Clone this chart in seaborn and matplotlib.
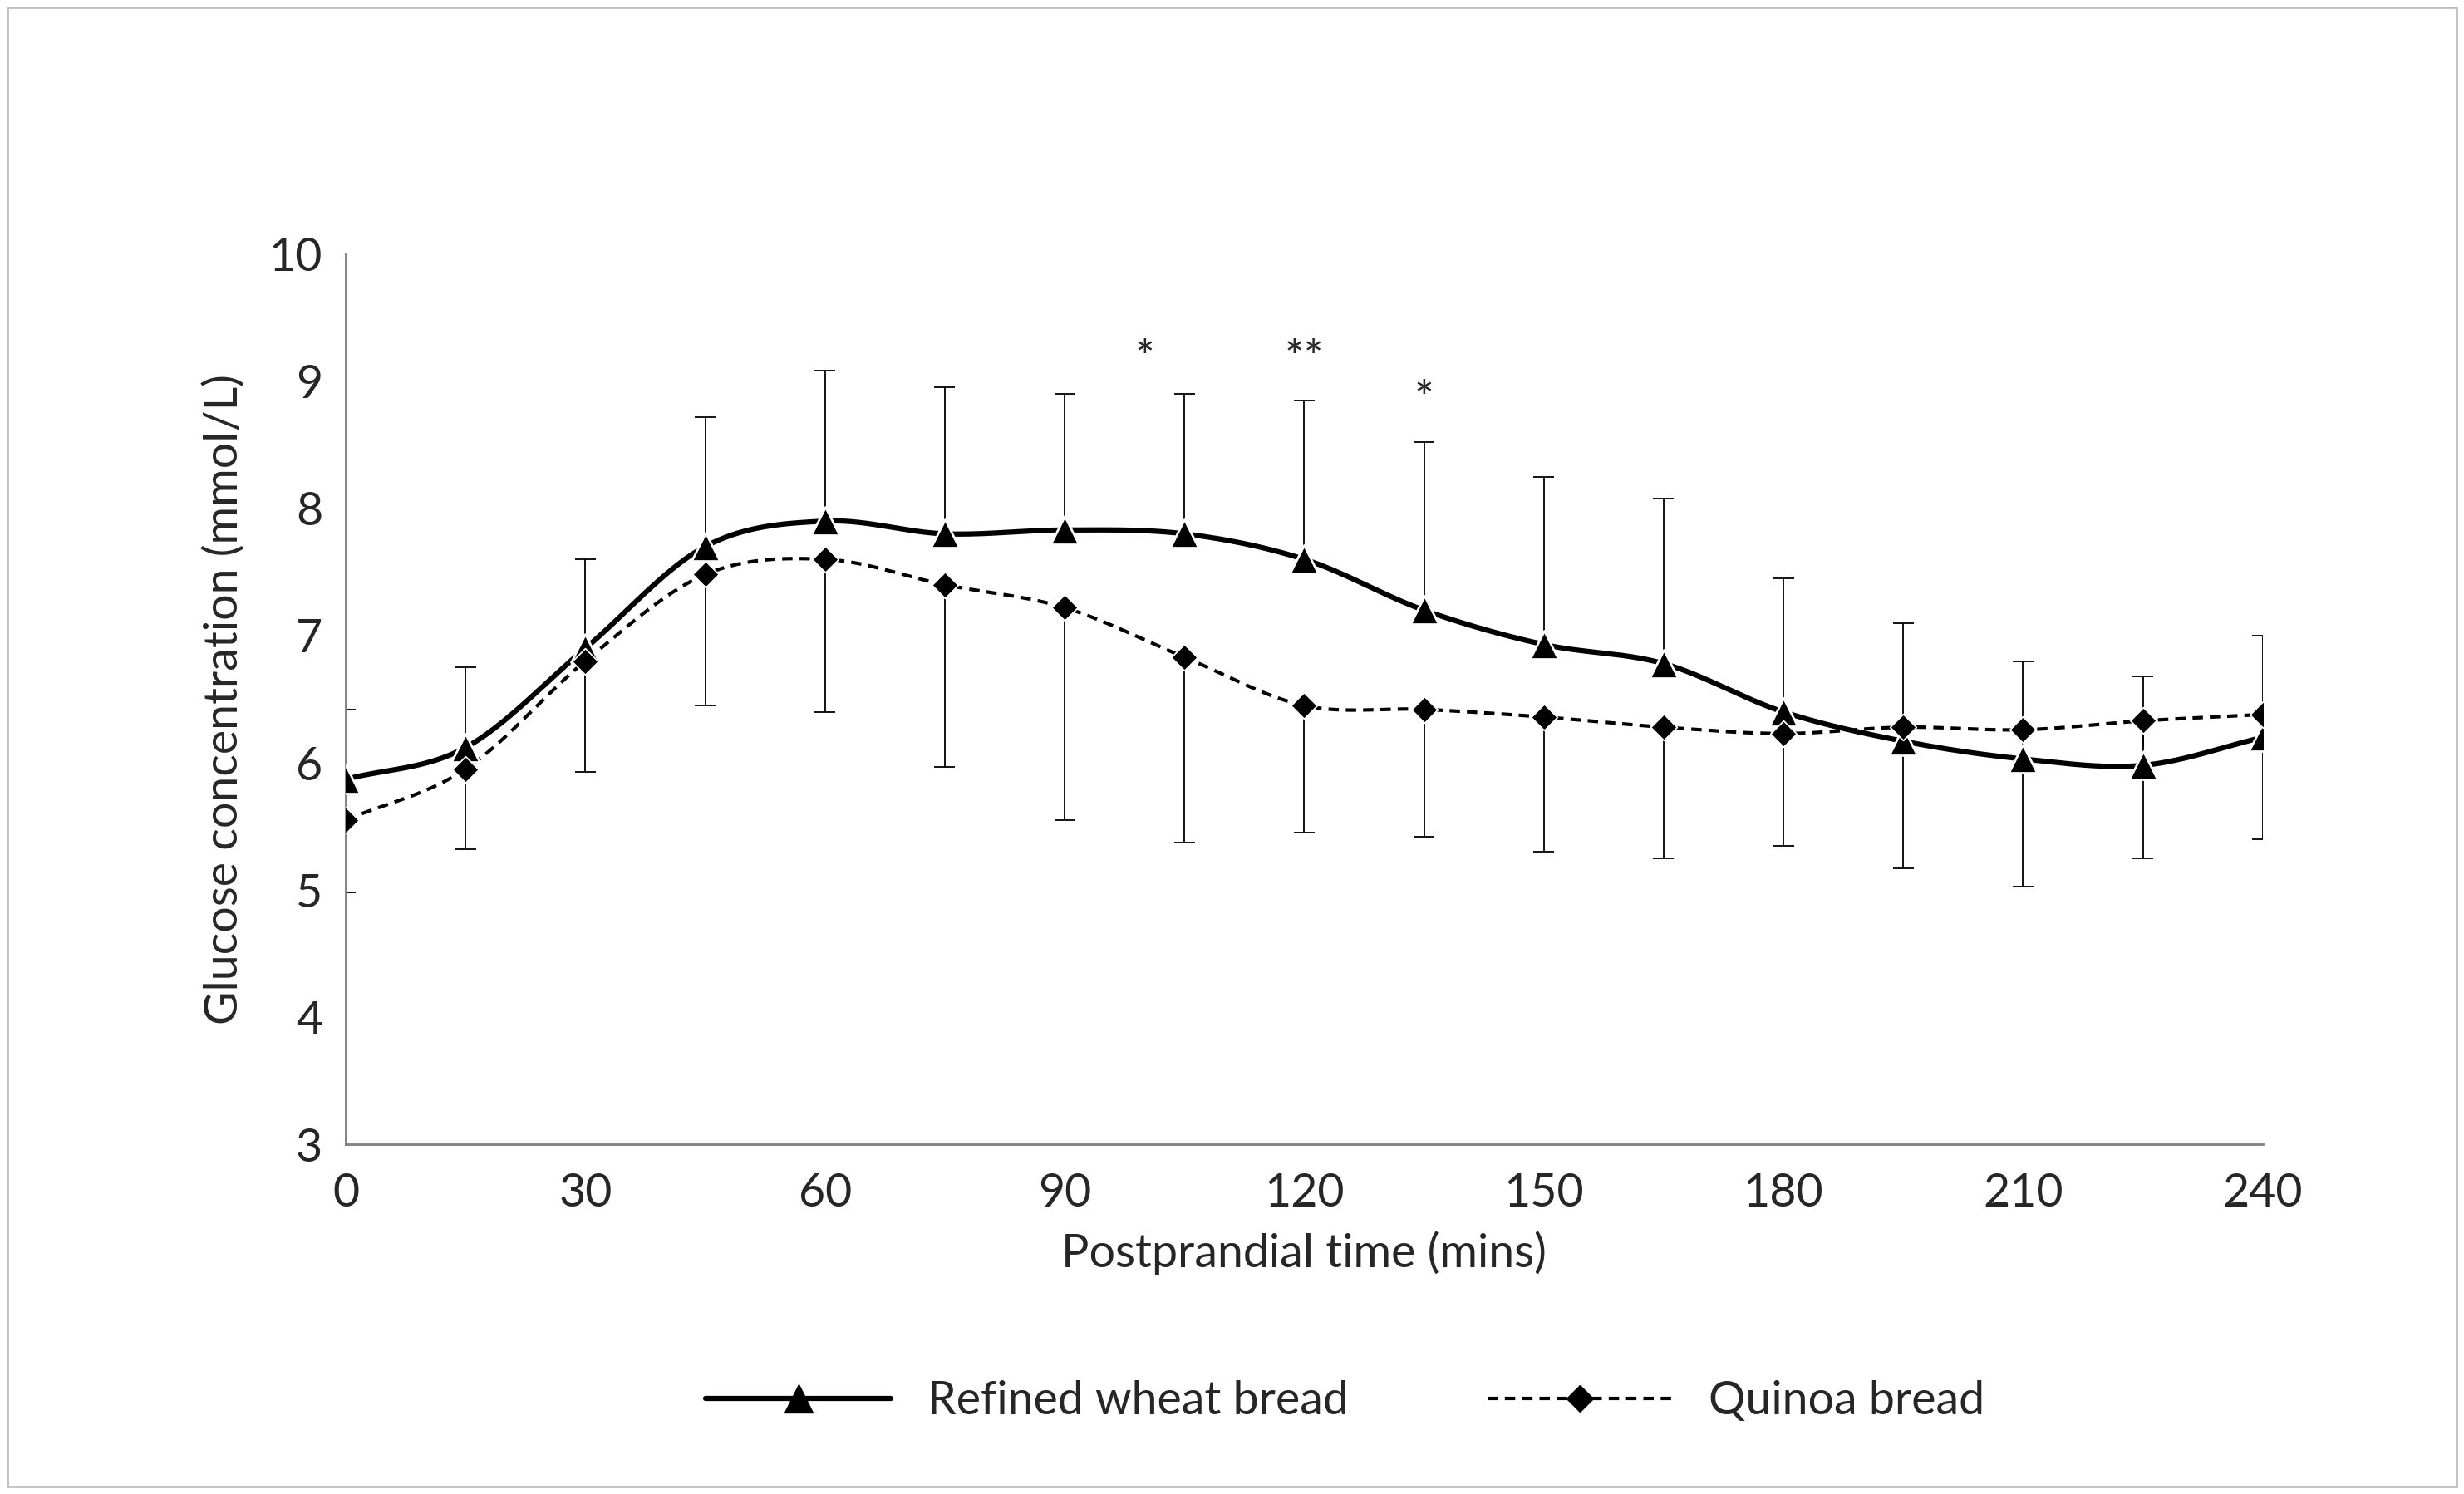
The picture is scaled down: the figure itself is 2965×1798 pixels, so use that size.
import numpy as np
import pandas as pd
import seaborn as sns
import matplotlib.pyplot as plt
from matplotlib.patches import Rectangle

time_min = [0, 15, 30, 45, 60, 75, 90, 105, 120, 135, 150, 165, 180, 195, 210, 225, 240]
wheat = [5.87, 6.12, 6.90, 7.70, 7.90, 7.80, 7.83, 7.80, 7.60, 7.20, 6.93, 6.78, 6.40, 6.17, 6.03, 5.98, 6.20]
quinoa = [5.55, 5.95, 6.80, 7.48, 7.60, 7.40, 7.22, 6.83, 6.45, 6.42, 6.36, 6.28, 6.23, 6.28, 6.26, 6.33, 6.38]
wheat_upper = [6.42, 6.75, 7.60, 8.72, 9.08, 8.95, 8.90, 8.90, 8.85, 8.52, 8.25, 8.08, 7.45, 7.10, 6.80, 6.68, 7.00]
quinoa_lower = [4.98, 5.32, 5.93, 6.45, 6.40, 5.97, 5.55, 5.37, 5.45, 5.42, 5.30, 5.25, 5.35, 5.17, 5.03, 5.25, 5.40]
stars = [(100, 9.0, '*'), (120, 9.0, '**'), (135, 8.68, '*')]


def smooth(x, y, n=30):
    # Catmull-Rom spline, like Excel's smoothed lines
    x = np.asarray(x, float); y = np.asarray(y, float)
    px = np.concatenate([[2 * x[0] - x[1]], x, [2 * x[-1] - x[-2]]])
    py = np.concatenate([[2 * y[0] - y[1]], y, [2 * y[-1] - y[-2]]])
    xs, ys = [], []
    t = np.linspace(0, 1, n)
    for i in range(1, len(px) - 2):
        for p, out in ((px, xs), (py, ys)):
            p0, p1, p2, p3 = p[i - 1], p[i], p[i + 1], p[i + 2]
            out.append(0.5 * (2 * p1 + (-p0 + p2) * t + (2 * p0 - 5 * p1 + 4 * p2 - p3) * t ** 2
                              + (-p0 + 3 * p1 - 3 * p2 + p3) * t ** 3))
    return np.concatenate(xs), np.concatenate(ys)


sns.set_style('white')
plt.rcParams['font.family'] = ['Lato', 'DejaVu Sans']

fig = plt.figure(figsize=(29.65, 17.98), dpi=100)
ax = fig.add_axes([0.1403, 0.234, 0.778, 0.596])

df = pd.DataFrame({'t': time_min, 'wheat': wheat, 'quinoa': quinoa})

ax.vlines(time_min, wheat, wheat_upper, color='black', lw=1.3)
ax.hlines(wheat_upper, np.array(time_min) - 1.3, np.array(time_min) + 1.3, color='black', lw=1.3)
ax.vlines(time_min, quinoa_lower, quinoa, color='black', lw=1.3)
ax.hlines(quinoa_lower, np.array(time_min) - 1.3, np.array(time_min) + 1.3, color='black', lw=1.3)

sx, sy = smooth(time_min, wheat)
ax.plot(sx, sy, color='black', lw=4.5)
sx, sy = smooth(time_min, quinoa)
ax.plot(sx, sy, color='black', lw=3, ls=(0, (3, 2)))
sns.scatterplot(data=df, x='t', y='wheat', marker='^', s=600, color='black', ax=ax, zorder=5)
sns.scatterplot(data=df, x='t', y='quinoa', marker='D', s=260, color='black', ax=ax, zorder=5)

for x, y, s in stars:
    ax.text(x, y, s, ha='center', va='bottom', fontsize=40)

ax.set_xlim(0, 240)
ax.set_ylim(3, 10)
ax.set_xticks(range(0, 241, 30))
ax.set_yticks(range(3, 11))
ax.tick_params(labelsize=40, length=10, width=2, color='#7f7f7f', direction='out', pad=10)
ax.tick_params(axis='x', pad=14)
for s in ['top', 'right']:
    ax.spines[s].set_visible(False)
for s in ['left', 'bottom']:
    ax.spines[s].set_color('#7f7f7f')
    ax.spines[s].set_linewidth(2)
ax.set_xlabel('Postprandial time (mins)', fontsize=40, labelpad=14)
ax.set_ylabel('Glucose concentration (mmol/L)', fontsize=40, labelpad=20)

h1, = ax.plot([], [], color='black', lw=4.5, marker='^', markersize=24)
h2, = ax.plot([], [], color='black', lw=3, ls=(0, (3, 2)), marker='D', markersize=16)
fig.legend([h1, h2], ['Refined wheat bread', 'Quinoa bread'], loc='center',
           bbox_to_anchor=(0.546, 0.062), ncol=2, frameon=False, fontsize=40,
           handlelength=4, columnspacing=3)

fig.add_artist(Rectangle((0.003, 0.005), 0.994, 0.99, transform=fig.transFigure,
                         fill=False, edgecolor='#bfbfbf', lw=2))

fig.savefig('out.png', dpi=100)
